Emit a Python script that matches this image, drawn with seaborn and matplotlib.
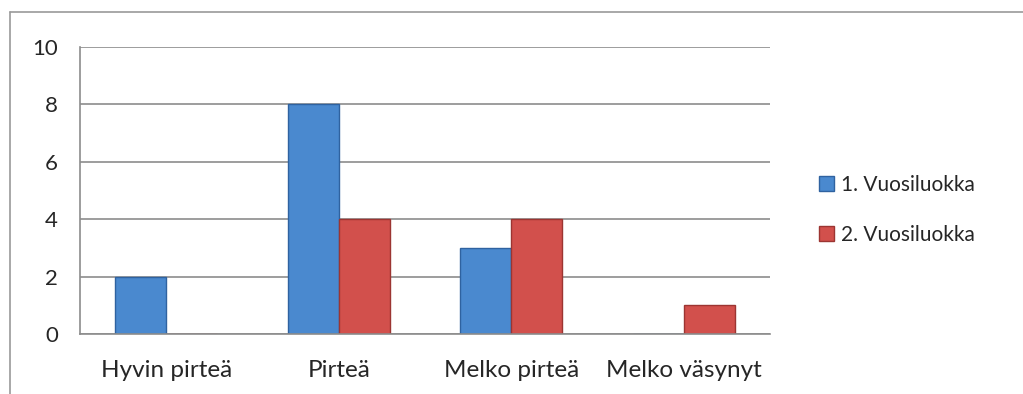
import numpy as np
import matplotlib.pyplot as plt
import pandas as pd
import seaborn as sns
from matplotlib.lines import Line2D
from matplotlib.patches import Patch

categories = ['Hyvin pirteä', 'Pirteä', 'Melko pirteä', 'Melko väsynyt']
series = ['1. Vuosiluokka', '2. Vuosiluokka']
luokka1 = [2, 8, 3, 0]
luokka2 = [0, 4, 4, 1]

df = pd.DataFrame({
    'kategoria': categories * 2,
    'luokka': [series[0]] * 4 + [series[1]] * 4,
    'arvo': luokka1 + luokka2,
})

sns.set_style('white')
plt.rcParams['font.family'] = ['Lato', 'DejaVu Sans']

colors = {series[0]: '#4a89cf', series[1]: '#d2504c'}
edges = {series[0]: '#2f62a0', series[1]: '#9c3532'}

fig = plt.figure(figsize=(10.23, 3.94), dpi=100)
ax = fig.add_axes([80 / 1023, 1 - 334 / 394, 690 / 1023, 287 / 394])

sns.barplot(data=df, x='kategoria', y='arvo', hue='luokka', order=categories,
            hue_order=series, palette=colors, width=0.59, gap=0,
            legend=False, ax=ax, saturation=1)

# darker edge on each bar for the bevel look
for cont, s in zip(ax.containers, series):
    for bar in cont:
        bar.set_edgecolor(edges[s])
        bar.set_linewidth(1.0)

ax.set_xlim(-0.5, 3.5)
ax.set_ylim(0, 10)
ax.set_yticks([0, 2, 4, 6, 8, 10])
ax.yaxis.grid(True, color='#8c8c8c', linewidth=1.2)
ax.set_axisbelow(True)
ax.set_xlabel('')
ax.set_ylabel('')

for side in ['top', 'right']:
    ax.spines[side].set_visible(False)
for side in ['left', 'bottom']:
    ax.spines[side].set_color('#8c8c8c')
    ax.spines[side].set_linewidth(1.2)

ax.set_xticks(np.arange(-0.5, 4, 1), minor=True)
ax.tick_params(axis='x', which='minor', length=7, width=1.2, color='#8c8c8c', direction='out')
ax.tick_params(axis='x', which='major', length=0, pad=19, labelsize=17.5)
ax.tick_params(axis='y', length=7, width=1.2, color='#8c8c8c', direction='out', pad=9, labelsize=16)

handles = [Patch(facecolor=colors[s], edgecolor=edges[s], label=s) for s in series]
fig.legend(handles=handles, loc='center left', bbox_to_anchor=(800 / 1023, 1 - 210 / 394),
           frameon=False, fontsize=15, handlelength=0.75, handleheight=0.75,
           handletextpad=0.3, labelspacing=1.45)

# outer chart frame
fig.add_artist(Line2D([10 / 1023, 10 / 1023], [0, 1 - 12 / 394], color='#9a9a9a', linewidth=1.2))
fig.add_artist(Line2D([10 / 1023, 1], [1 - 12 / 394, 1 - 12 / 394], color='#9a9a9a', linewidth=1.2))

fig.savefig('out.png', dpi=100)
